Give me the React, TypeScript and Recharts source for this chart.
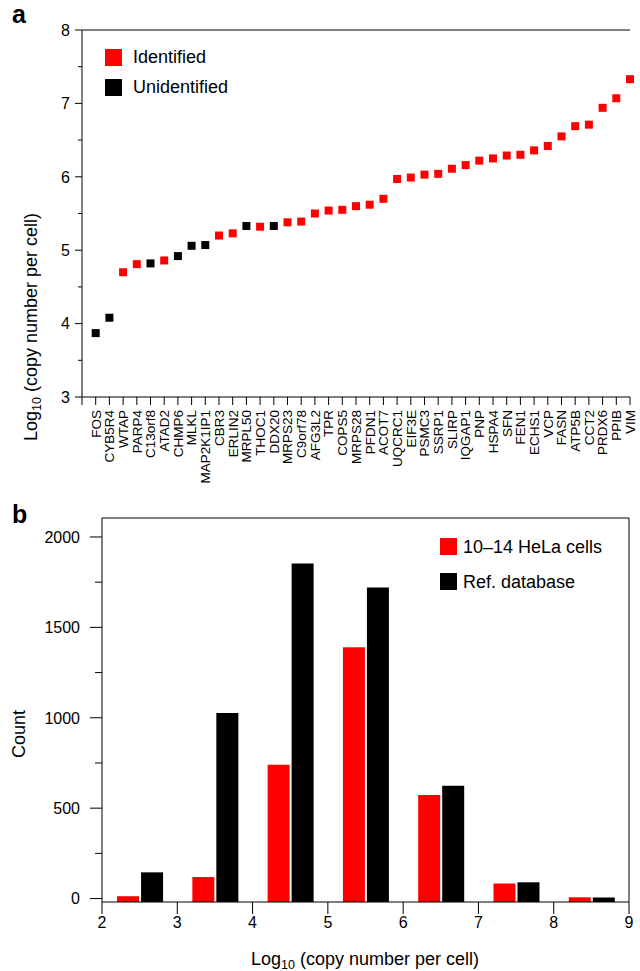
import React from 'react';
import {
  ScatterChart,
  Scatter,
  BarChart,
  Bar,
  XAxis,
  YAxis,
  ZAxis,
  Legend,
  ReferenceLine,
} from 'recharts';

const FONT = '"Liberation Sans", Arial, Helvetica, sans-serif';
const RED = '#ff0000';
const BLACK = '#000000';

// panel a: proteins ordered by copy number
const genes = [
  'FOS', 'CYB5R4', 'WTAP', 'PARP4', 'C13orf8', 'ATAD2', 'CHMP6', 'MLKL', 'MAP2K1IP1', 'CBR3',
  'ERLIN2', 'MRPL50', 'THOC1', 'DDX20', 'MRPS23', 'C9orf78', 'AFG3L2', 'TPR', 'COPS5', 'MRPS28',
  'PFDN1', 'ACOT7', 'UQCRC1', 'EIF3E', 'PSMC3', 'SSRP1', 'SLIRP', 'IQGAP1', 'PNP', 'HSPA4',
  'SFN', 'FEN1', 'ECHS1', 'VCP', 'FASN', 'ATP5B', 'CCT2', 'PRDX6', 'PPIB', 'VIM',
];
const logCopies = [
  3.87, 4.08, 4.70, 4.81, 4.82, 4.86, 4.92, 5.06, 5.07, 5.20,
  5.23, 5.33, 5.32, 5.33, 5.38, 5.39, 5.50, 5.54, 5.55, 5.60,
  5.62, 5.70, 5.97, 5.99, 6.03, 6.04, 6.11, 6.16, 6.22, 6.25,
  6.29, 6.30, 6.36, 6.42, 6.55, 6.69, 6.71, 6.94, 7.07, 7.33,
];
const unidentified = ['FOS', 'CYB5R4', 'C13orf8', 'CHMP6', 'MLKL', 'MAP2K1IP1', 'MRPL50', 'DDX20'];
const yTicksA = [3, 3.5, 4, 4.5, 5, 5.5, 6, 6.5, 7, 7.5, 8];

// panel b: histogram of log10 copy numbers
const binStarts = [2, 3, 4, 5, 6, 7, 8];
const helaCounts = [13, 119, 740, 1390, 573, 83, 7];
const refDbCounts = [145, 1027, 1853, 1721, 624, 90, 6];
const xTicksB = [2, 3, 4, 5, 6, 7, 8, 9];
const yTicksB = [0, 250, 500, 750, 1000, 1250, 1500, 1750, 2000];
const Y_MIN_B = -19;
const Y_MAX_B = 2105;

const proteins = genes.map((gene, i) => ({ pos: i + 1, gene, value: logCopies[i] }));
const identifiedPts = proteins.filter((p) => !unidentified.includes(p.gene));
const unidentifiedPts = proteins.filter((p) => unidentified.includes(p.gene));
// note: a field called "ref" would be spread onto the bar rects, so use refDb
const histData = binStarts.map((b, i) => ({ mid: b + 0.5, hela: helaCounts[i], refDb: refDbCounts[i] }));

function makeYTick(tickSize: number, tickMargin: number, minorSize: number, fontSize: number, isMajor: (v: number) => boolean) {
  return (props: any) => {
    const { x, y, payload } = props;
    const axisX = x + tickSize + tickMargin;
    const major = isMajor(payload.value);
    return (
      <g>
        <line x1={axisX - (major ? tickSize : minorSize)} x2={axisX} y1={y} y2={y} stroke={BLACK} />
        {major && (
          <text x={x} y={y} dy="0.36em" textAnchor="end" fontSize={fontSize} fontFamily={FONT} fill={BLACK}>
            {payload.value}
          </text>
        )}
      </g>
    );
  };
}

const geneTick = (props: any) => {
  const { x, y, payload } = props;
  const name = genes[payload.value - 1] || '';
  return (
    <text
      x={x}
      y={y}
      dy="0.36em"
      transform={`rotate(-90, ${x}, ${y})`}
      textAnchor="end"
      fontSize={13.5}
      fontFamily={FONT}
      fill={BLACK}
    >
      {name}
    </text>
  );
};

const legendBox = (items: { label: string; color: string }[], rowH: number, gap: number) => () => (
  <div style={{ fontFamily: FONT, fontSize: 18, color: BLACK, lineHeight: 1 }}>
    {items.map((it) => (
      <div key={it.label} style={{ display: 'flex', alignItems: 'center', height: rowH, whiteSpace: 'nowrap' }}>
        <span style={{ display: 'inline-block', width: 17, height: 17, background: it.color, marginRight: gap }} />
        <span>{it.label}</span>
      </div>
    ))}
  </div>
);

const LogTitle = () => (
  <span>
    Log<sub style={{ fontSize: 12.5, verticalAlign: -4, lineHeight: 0 }}>10</sub> (copy number per cell)
  </span>
);

const titleStyle: React.CSSProperties = {
  position: 'absolute',
  fontFamily: FONT,
  fontSize: 18,
  color: BLACK,
  whiteSpace: 'nowrap',
  lineHeight: 1,
};

const axisStyle = { stroke: BLACK, strokeWidth: 1 };

export default function App() {
  return (
    <div style={{ position: 'absolute', left: 0, top: 0, width: 640, height: 971, background: '#fff', overflow: 'hidden' }}>
      <div style={{ position: 'absolute', left: 12, top: 0, fontFamily: FONT, fontWeight: 'bold', fontSize: 25 }}>a</div>
      <div style={{ position: 'absolute', left: 0, top: 0 }}>
        <ScatterChart width={640} height={490} margin={{ top: 30, right: 10, bottom: 3, left: 0 }}>
          <XAxis
            type="number"
            dataKey="pos"
            domain={[0, genes.length]}
            ticks={[0].concat(proteins.map((p) => p.pos))}
            interval={0}
            height={90}
            tickSize={8}
            tickMargin={5}
            axisLine={axisStyle}
            tickLine={axisStyle}
            tick={geneTick}
          />
          <YAxis
            type="number"
            dataKey="value"
            domain={[3, 8]}
            ticks={yTicksA}
            interval={0}
            width={82}
            tickSize={7}
            tickMargin={5}
            axisLine={axisStyle}
            tickLine={false}
            tick={makeYTick(7, 5, 4, 16, (v) => Number.isInteger(v))}
          />
          <ZAxis range={[121, 121]} />
          <ReferenceLine y={8} stroke={BLACK} />
          <Legend
            layout="vertical"
            verticalAlign="middle"
            align="center"
            wrapperStyle={{ position: 'absolute', top: 42, left: 105, width: 'auto', height: 'auto' }}
            content={legendBox(
              [
                { label: 'Identified', color: RED },
                { label: 'Unidentified', color: BLACK },
              ],
              30,
              11
            )}
          />
          <Scatter name="Identified" data={identifiedPts} fill={RED} shape="square" isAnimationActive={false} />
          <Scatter name="Unidentified" data={unidentifiedPts} fill={BLACK} shape="square" isAnimationActive={false} />
        </ScatterChart>
      </div>
      <div style={{ ...titleStyle, left: 31, top: 213, transform: 'translate(-100%, -50%) rotate(-90deg)', transformOrigin: '100% 50%' }}>
        <LogTitle />
      </div>

      <div style={{ position: 'absolute', left: 12, top: 500, fontFamily: FONT, fontWeight: 'bold', fontSize: 25 }}>b</div>
      <div style={{ position: 'absolute', left: 0, top: 490 }}>
        <BarChart
          width={640}
          height={481}
          data={histData}
          margin={{ top: 28, right: 11, bottom: 29, left: 0 }}
          barCategoryGap="20%"
          barGap={2}
        >
          <XAxis
            type="number"
            dataKey="mid"
            domain={[2, 9]}
            ticks={xTicksB}
            interval={0}
            height={40}
            tickSize={12}
            tickMargin={3}
            axisLine={axisStyle}
            tickLine={axisStyle}
            tick={{ fontSize: 16, fontFamily: FONT, fill: BLACK }}
          />
          <YAxis
            type="number"
            domain={[Y_MIN_B, Y_MAX_B]}
            allowDataOverflow
            ticks={yTicksB}
            interval={0}
            width={102}
            tickSize={12}
            tickMargin={10}
            axisLine={axisStyle}
            tickLine={false}
            tick={makeYTick(12, 10, 7, 16, (v) => v % 500 === 0)}
          />
          <ReferenceLine y={Y_MAX_B} stroke={BLACK} />
          <ReferenceLine x={9} stroke={BLACK} />
          <Legend
            layout="vertical"
            verticalAlign="middle"
            align="center"
            wrapperStyle={{ position: 'absolute', top: 39, left: 440, width: 'auto', height: 'auto' }}
            content={legendBox(
              [
                { label: '10–14 HeLa cells', color: RED },
                { label: 'Ref. database', color: BLACK },
              ],
              35,
              6
            )}
          />
          <Bar name="10–14 HeLa cells" dataKey={(d: any) => [Y_MIN_B, d.hela]} fill={RED} isAnimationActive={false} />
          <Bar name="Ref. database" dataKey={(d: any) => [Y_MIN_B, d.refDb]} fill={BLACK} isAnimationActive={false} />
        </BarChart>
      </div>
      <div style={{ ...titleStyle, left: 19, top: 710, transform: 'translate(-100%, -50%) rotate(-90deg)', transformOrigin: '100% 50%' }}>
        Count
      </div>
      <div style={{ ...titleStyle, left: 365, top: 950, transform: 'translateX(-50%)' }}>
        <LogTitle />
      </div>
    </div>
  );
}
